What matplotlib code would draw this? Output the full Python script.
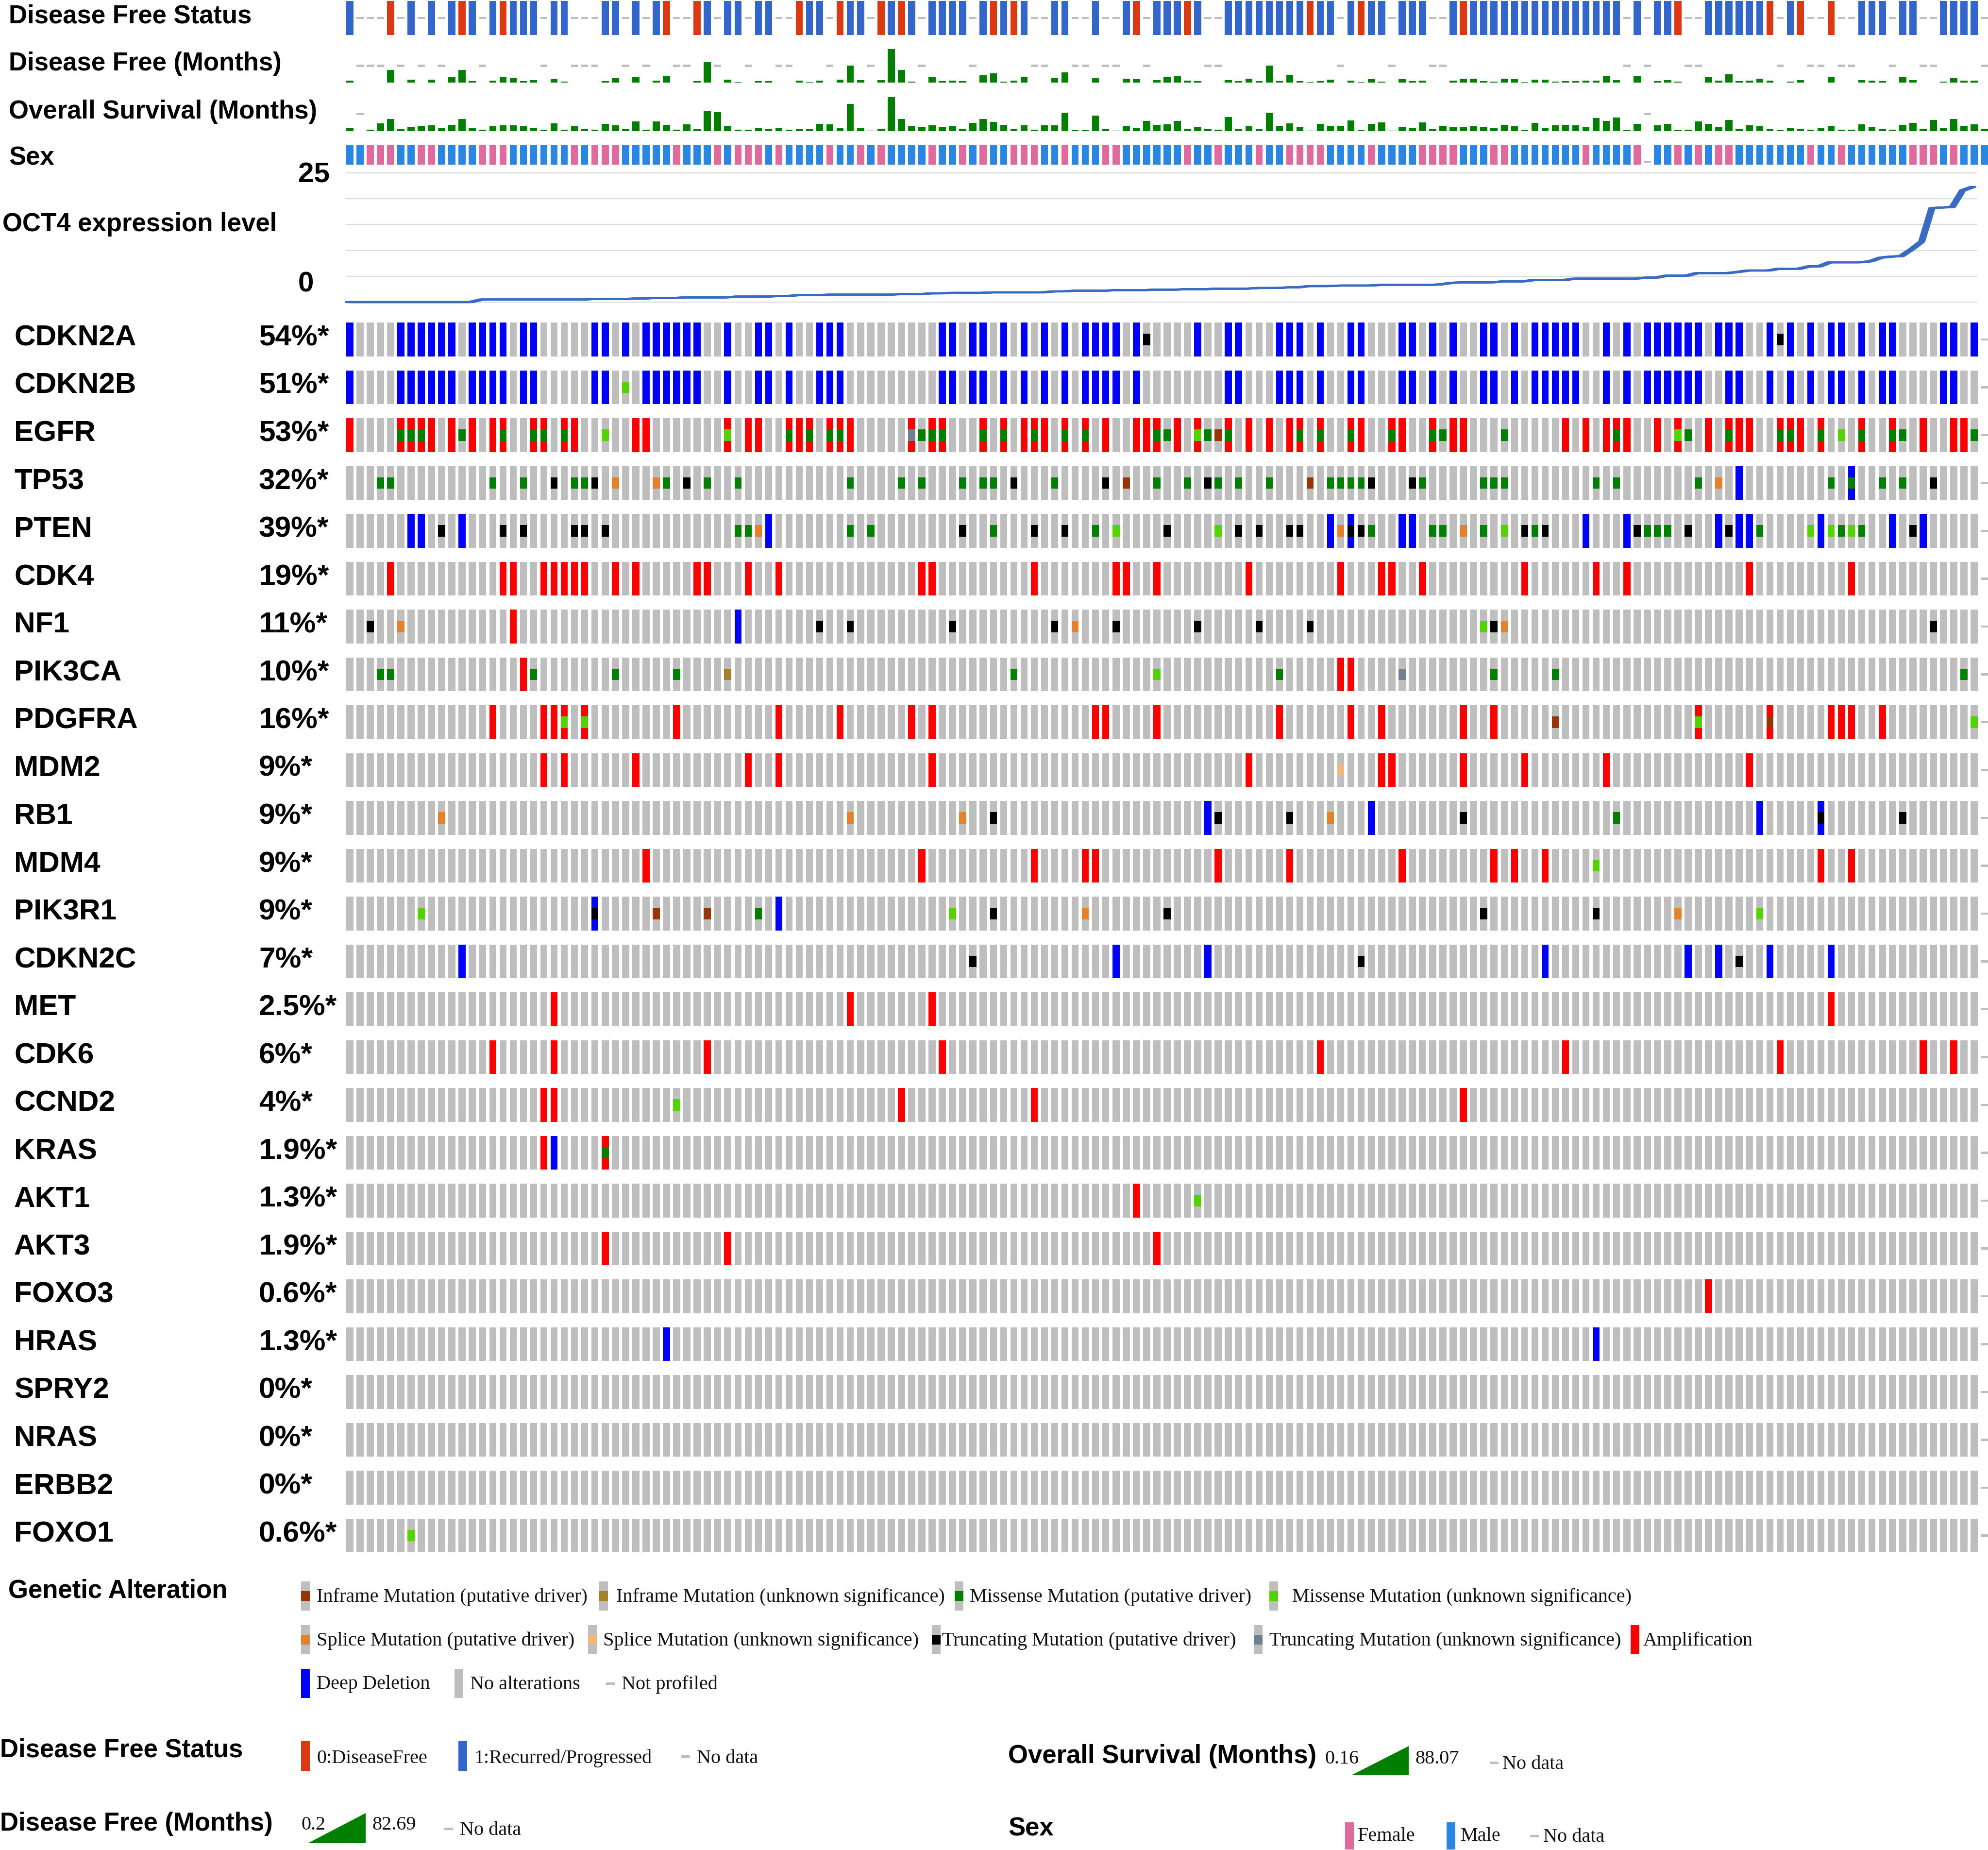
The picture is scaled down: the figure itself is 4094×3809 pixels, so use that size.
import matplotlib
matplotlib.use("Agg")
import matplotlib.pyplot as plt
from matplotlib.patches import Rectangle, Polygon

plt.rcParams['font.family'] = ['Liberation Sans', 'DejaVu Sans']

W, H = 4094, 3809
nan = float('nan')

# ---------------- data ----------------
genes = ['CDKN2A', 'CDKN2B', 'EGFR', 'TP53', 'PTEN', 'CDK4', 'NF1', 'PIK3CA', 'PDGFRA',
         'MDM2', 'RB1', 'MDM4', 'PIK3R1', 'CDKN2C', 'MET', 'CDK6', 'CCND2', 'KRAS',
         'AKT1', 'AKT3', 'FOXO3', 'HRAS', 'SPRY2', 'NRAS', 'ERBB2', 'FOXO1']
gene_pct = ['54%*', '51%*', '53%*', '32%*', '39%*', '19%*', '11%*', '10%*', '16%*',
            '9%*', '9%*', '9%*', '9%*', '7%*', '2.5%*', '6%*', '4%*', '1.9%*',
            '1.3%*', '1.9%*', '0.6%*', '1.3%*', '0%*', '0%*', '0%*', '0.6%*']
n_samples = 161
not_profiled = [160]

# alteration codes: A amp, D deep del, M missense driver, m missense VUS, T truncating driver,
# t truncating VUS, S splice driver, s splice VUS, I inframe driver, i inframe VUS
CDKN2A_alt = {'D': [0, 5, 6, 7, 8, 9, 10, 12, 13, 14, 15, 17, 18, 24, 25, 27, 29, 30, 31, 32, 33, 34, 37,
                    40, 41, 43, 46, 47, 48, 58, 59, 61, 62, 64, 66, 68, 70, 72, 73, 74, 75, 77, 83, 86, 87,
                    91, 92, 93, 95, 98, 99, 103, 104, 106, 108, 111, 112, 114, 116, 117, 118, 119, 120,
                    123, 125, 127, 128, 129, 130, 131, 132, 134, 135, 136, 139, 141, 143, 145, 146, 148,
                    150, 151, 156, 157, 159],
              'T': [78, 140]}
CDKN2B_alt = {'D': [0, 5, 6, 7, 8, 9, 10, 12, 13, 14, 15, 17, 18, 24, 25, 29, 30, 31, 32, 33, 34, 37,
                    40, 41, 43, 46, 47, 48, 58, 59, 61, 62, 64, 66, 68, 70, 72, 73, 74, 75, 77, 86, 87,
                    91, 92, 93, 95, 98, 99, 103, 104, 106, 108, 111, 112, 114, 116, 117, 118, 119, 120,
                    123, 125, 127, 128, 129, 130, 131, 132, 135, 136, 139, 141, 143, 145, 146, 148,
                    150, 151, 156, 157],
              'm': [27]}
EGFR_alt = {'A': [0, 5, 6, 7, 8, 10, 12, 14, 15, 18, 19, 21, 22, 28, 29, 37, 39, 40, 43, 44, 45, 47, 48, 49,
                  55, 57, 58, 62, 64, 66, 67, 68, 70, 72, 74, 77, 78, 79, 81, 83, 86, 88, 90, 92, 93, 95,
                  98, 99, 102, 103, 106, 108, 109, 119, 121, 123, 124, 125, 128, 130, 133, 135, 136, 137,
                  140, 141, 142, 144, 148, 151, 154, 157, 158],
            'M': [5, 6, 7, 11, 15, 18, 19, 21, 43, 45, 47, 48, 56, 57, 58, 62, 64, 67, 70, 72, 79, 80, 84,
                  86, 93, 95, 98, 102, 106, 107, 113, 124, 131, 135, 140, 141, 144, 148, 151, 152, 159],
            'm': [25, 37, 83, 130, 146],
            't': [55],
            'I': [85]}
TP53_alt = {'M': [3, 4, 14, 17, 22, 23, 31, 35, 38, 49, 54, 56, 60, 62, 63, 69, 79, 82, 85, 87, 90, 96, 97,
                  98, 99, 105, 111, 112, 113, 122, 124, 132, 145, 147, 150, 152],
            'T': [20, 24, 33, 65, 74, 84, 100, 104, 155],
            'S': [26, 30, 134],
            'I': [76, 94],
            'D': [136, 147]}
PTEN_alt = {'D': [6, 7, 11, 41, 96, 98, 103, 104, 121, 125, 134, 136, 137, 144, 151, 154],
            'T': [9, 15, 17, 22, 23, 25, 60, 67, 70, 80, 87, 89, 92, 93, 98, 99, 115, 117, 126, 131, 135, 153],
            'M': [38, 39, 49, 51, 63, 73, 100, 106, 107, 111, 116, 127, 128, 129, 138, 146, 148],
            'm': [75, 85, 113, 143, 145, 147],
            'S': [40, 97, 109]}
CDK4_alt = {'A': [4, 15, 16, 19, 20, 21, 22, 23, 26, 28, 34, 35, 39, 42, 56, 57, 67, 75, 76, 79, 88, 97,
                  101, 102, 105, 115, 122, 125, 137, 147]}
NF1_alt = {'T': [2, 46, 49, 59, 69, 75, 83, 89, 94, 112, 155], 'S': [5, 71, 113], 'A': [16], 'D': [38],
           'm': [111]}
PIK3CA_alt = {'M': [3, 4, 18, 26, 32, 65, 91, 112, 118, 158], 'A': [17, 97, 98], 'i': [37], 'm': [79],
              't': [103]}
PDGFRA_alt = {'A': [14, 19, 20, 21, 23, 32, 42, 48, 55, 57, 73, 74, 79, 91, 98, 101, 109, 112, 132, 139,
                    145, 146, 147, 150],
              'm': [21, 23, 132, 159], 'I': [118, 139]}
MDM2_alt = {'A': [19, 21, 28, 39, 42, 57, 88, 101, 102, 109, 115, 123, 137], 's': [97]}
RB1_alt = {'S': [9, 49, 60, 96], 'T': [63, 85, 92, 109, 144, 152], 'D': [84, 100, 138, 144], 'M': [124]}
MDM4_alt = {'A': [29, 56, 67, 72, 73, 85, 92, 103, 112, 114, 117, 144, 147], 'm': [122]}
PIK3R1_alt = {'m': [7, 59, 138], 'D': [24, 42], 'T': [24, 63, 80, 111, 122], 'I': [30, 35], 'M': [40],
              'S': [72, 130]}
CDKN2C_alt = {'D': [11, 75, 84, 117, 131, 134, 139, 145], 'T': [61, 99, 136]}
MET_alt = {'A': [20, 49, 57, 145]}
CDK6_alt = {'A': [14, 20, 35, 58, 95, 119, 140, 154, 157]}
CCND2_alt = {'A': [19, 20, 54, 67, 109], 'm': [32]}
KRAS_alt = {'A': [19, 25], 'D': [20], 'M': [25]}
AKT1_alt = {'A': [77], 'm': [83]}
AKT3_alt = {'A': [25, 37, 79]}
FOXO3_alt = {'A': [133]}
HRAS_alt = {'D': [31, 122]}
SPRY2_alt = {}
NRAS_alt = {}
ERBB2_alt = {}
FOXO1_alt = {'m': [6]}

gene_alts = [CDKN2A_alt, CDKN2B_alt, EGFR_alt, TP53_alt, PTEN_alt, CDK4_alt, NF1_alt, PIK3CA_alt,
             PDGFRA_alt, MDM2_alt, RB1_alt, MDM4_alt, PIK3R1_alt, CDKN2C_alt, MET_alt, CDK6_alt,
             CCND2_alt, KRAS_alt, AKT1_alt, AKT3_alt, FOXO3_alt, HRAS_alt, SPRY2_alt, NRAS_alt,
             ERBB2_alt, FOXO1_alt]

# clinical tracks ('1' Recurred/Progressed, '0' DiseaseFree, '-' no data)
dfs_status = list("1---0-1-1-" "101-10111-" "11---11-1-" "10--01-11-" "11--011-01"
                  "1-0101-111" "1-10101--1" "1--1--10-1" "1101--1111" "1111011-10"
                  "11-111--10" "1111111111" "11111-1-11" "0--1111110" "-10--0--11"
                  "1-11--1111" "-")
df_months = [5.2, nan, nan, nan, 31, nan, 7.6, nan, 7.6, nan,
             13, 31, 3.6, nan, 5.2, 14.5, 12, 3.2, 6.4, nan,
             8.8, 2, nan, nan, nan, 3.2, 10.8, nan, 13.2, nan,
             5.2, 15.7, nan, nan, 4, 50.6, nan, 7.6, 1.2, nan,
             3.2, 3.2, nan, nan, 5.2, 1.2, 5.2, nan, 7.6, 41.8,
             6.4, nan, 6.4, 82.69, 31.3, 2, nan, 13.2, 3.2, 5.2,
             3.2, nan, 17.7, 22.5, 2, 5.2, 13.2, nan, nan, 12,
             25.7, nan, nan, 10.8, nan, nan, 9.6, 8.8, nan, 6.4,
             13.2, 15.7, 5.2, 3.2, nan, nan, 6.4, 3.2, 9.6, 3.2,
             41.7, 4, 18.9, 4, 1.2, 4, 7.6, nan, 5.2, 1.2,
             8.8, 2, nan, 8.8, 3.2, 5.2, nan, nan, 5.1, 9.5,
             9.5, 3.2, 2, 9.5, 8.7, 1.2, 7.5, 7.5, 2, 3.9,
             3.9, 5.1, 5.1, 17.3, 6.3, nan, 15.4, nan, 3.9, 6.3,
             2, nan, nan, 14.2, 5.1, 20.9, 3.2, 5.1, 9.5, 5.1,
             nan, 2, 6.3, nan, nan, 13, nan, nan, 6.3, 5.1,
             3.9, nan, 13, 6.3, nan, nan, 2, 10.6, 5.1, 5.1,
             nan]
os_months = [9.3, nan, 4.2, 19.9, 31.8, 5.5, 11.9, 14, 15.2, 8,
             16.5, 31.8, 8, 4.2, 12.7, 15.2, 15.2, 12.7, 9.3, 4.2,
             19.9, 4.2, 12.7, 5.5, 4.2, 18.6, 15.2, 5.5, 25, 3.4,
             25, 16.5, 3.4, 17.8, 5.5, 51.2, 48.7, 14, 3.4, 3.4,
             8, 5.5, 9.3, 3.4, 5.5, 5.5, 18.6, 17.8, 8, 70.3,
             8, 1.7, 6.8, 88.07, 31.8, 12.7, 11.9, 15.2, 11.9, 12.7,
             6.8, 21.2, 30.9, 23.7, 16.5, 5.5, 15.2, 4.2, 15.2, 15.2,
             47.8, 2.1, 2.1, 40.6, 5.5, 1.3, 14, 9.3, 25.8, 16.5,
             17.8, 25.8, 5.5, 11.9, 5.5, 4.2, 36, 5.5, 12.7, 5.5,
             47.8, 14, 19.9, 10.6, 1.3, 18.6, 14, 14, 27.1, 2.1,
             18.6, 22.4, 1.3, 11.9, 8, 22.4, 5.5, 14, 10.4, 10.4,
             12.5, 11.6, 7.9, 16.2, 12.5, 2.1, 20.8, 9.1, 15, 16.2,
             15, 10.4, 33.7, 26.6, 35.3, 2.1, 19.5, nan, 15, 19.5,
             2.1, 3.3, 25.4, 18.3, 11.6, 29.1, 6.6, 15, 12.5, 5.4,
             2.1, 7.9, 6.6, 3.3, 9.1, 13.7, 3.3, 4.2, 17.5, 10.4,
             5.4, 3.3, 16.2, 22, 6.6, 29.1, 7.9, 31.2, 13.7, 17.5,
             6.6]
sex = list("MMFFFMMFFM" "MMMFFFMMMM" "MMFMFFFMMM" "MMFMMMFMFF" "FMFMMMMFMM"
           "FMFMMMMFMM" "FMFMMFFFMM" "FMMMFFMMMM" "MMFMMFMMMF" "MMFFFFMMMM"
           "FMMMMFFFFM" "MMFFMMMMMM" "MFMMMMF-MM" "FMFMFFMMMM" "MMMFMMFMMM"
           "MMMFFFMFMM" "M")
oct4 = [0.0, 0.0, 0.0, 0.0, 0.0, 0.0, 0.0, 0.0, 0.0, 0.0, 0.0, 0.0, 0.0,
        0.50, 0.50, 0.50, 0.50, 0.50, 0.50, 0.50, 0.50, 0.50, 0.50, 0.50,
        0.60, 0.60, 0.60, 0.60, 0.69, 0.69, 0.81, 0.81, 0.81,
        0.91, 0.91, 0.91, 0.91, 0.91, 1.07, 1.07, 1.07, 1.07, 1.16, 1.16,
        1.35, 1.35, 1.35, 1.44, 1.44, 1.44, 1.44, 1.44, 1.44, 1.44,
        1.54, 1.54, 1.54, 1.69, 1.69, 1.79, 1.79, 1.79, 1.79,
        1.88, 1.88, 1.88, 1.88, 1.88, 1.88, 2.07, 2.07,
        2.19, 2.19, 2.19, 2.19, 2.32, 2.32, 2.32, 2.32, 2.41, 2.41, 2.41,
        2.51, 2.51, 2.51, 2.60, 2.60, 2.60, 2.60, 2.73, 2.73, 2.73, 2.85, 2.85,
        3.10, 3.10, 3.10, 3.20, 3.20, 3.20, 3.20, 3.32, 3.32, 3.32, 3.32, 3.32, 3.32,
        3.45, 3.73, 3.82, 3.82, 3.82, 3.82, 4.01, 4.01, 4.01,
        4.26, 4.26, 4.26, 4.26, 4.54, 4.54, 4.54, 4.54, 4.54, 4.54, 4.54,
        4.73, 4.73, 5.11, 5.11, 5.11, 5.61, 5.61, 5.61, 5.61, 5.83,
        6.11, 6.11, 6.11, 6.45, 6.45, 6.45, 6.92, 6.92,
        7.70, 7.70, 7.70, 7.70, 7.90, 8.60, 8.80, 8.90, 10.20, 11.70,
        18.20, 18.30, 18.40, 21.60, 22.30]
oct4_range = (0, 25)

# ---------------- styles ----------------
GRAY = '#bebebe'
CNA_COL = {'A': '#ff0000', 'D': '#0000ff'}
MUT_COL = {'M': '#008000', 'm': '#53d400', 'T': '#000000', 't': '#708090',
           'S': '#e5802b', 's': '#f0b87b', 'I': '#993404', 'i': '#a68028'}
DFS_COL = {'1': '#3366cc', '0': '#dc3912'}
SEX_COL = {'M': '#2986e2', 'F': '#e0699e'}
GREEN = '#007f00'
LINE_COL = '#3a6bc4'

X0 = 713.0       # pixel of first column
PITCH = 21.04    # pixel pitch of columns
BW = 0.69        # bar width (fraction of pitch)
XMAX = (W - X0) / PITCH
ROW0 = 699.0
ROWP = 98.5
BAR_H = 0.71
MUT_H = BAR_H / 3

fig = plt.figure(figsize=(W / 100, H / 100), dpi=100)


def px_axes(x0, y0, x1, y1):
    ax = fig.add_axes([x0 / W, 1 - y1 / H, (x1 - x0) / W, (y1 - y0) / H])
    ax.set_axis_off()
    return ax


def ftext(x, y, s, **kw):
    fig.text(x / W, 1 - y / H, s, **kw)


cols = list(range(n_samples))
profiled = [c for c in cols if c not in not_profiled]

# ---------------- oncoprint ----------------
ng = len(genes)
ax = px_axes(X0, ROW0 - ROWP / 2, W, ROW0 + ROWP * (ng - 0.5))
ax.set_xlim(0, XMAX)
ax.set_ylim(ng - 0.5, -0.5)
for i, (g, alt) in enumerate(zip(genes, gene_alts)):
    ax.bar(profiled, BAR_H, width=BW, bottom=i - BAR_H / 2, align='edge', color=GRAY, linewidth=0)
    ax.bar(not_profiled, 0.045, width=BW, bottom=i - 0.0225, align='edge', color=GRAY, linewidth=0)
    for code, colr in CNA_COL.items():
        if code in alt:
            ax.bar(alt[code], BAR_H, width=BW, bottom=i - BAR_H / 2, align='edge', color=colr, linewidth=0)
    for code, colr in MUT_COL.items():
        if code in alt:
            ax.bar(alt[code], MUT_H, width=BW, bottom=i - MUT_H / 2, align='edge', color=colr, linewidth=0)
    ftext(29, ROW0 + i * ROWP - 3, g, fontsize=43.5, fontweight='bold', va='center', ha='left')
    ftext(533, ROW0 + i * ROWP - 3, gene_pct[i], fontsize=43.5, fontweight='bold', va='center', ha='left')

# ---------------- clinical tracks ----------------
# Disease free status
ax = px_axes(X0, 2, W, 72)
ax.set_xlim(0, XMAX)
ax.set_ylim(0, 1)
for code, colr in DFS_COL.items():
    idx = [c for c in cols if dfs_status[c] == code]
    ax.bar(idx, 1, width=BW, align='edge', color=colr, linewidth=0)
idx = [c for c in cols if dfs_status[c] == '-']
ax.bar(idx, 0.07, width=BW, bottom=0.465, align='edge', color=GRAY, linewidth=0)


def months_track(y0, y1, vals, vmax):
    a = px_axes(X0, y0, W, y1)
    a.set_xlim(0, XMAX)
    a.set_ylim(0, vmax)
    have = [c for c in cols if vals[c] == vals[c]]
    a.bar(have, [vals[c] for c in have], width=BW, align='edge', color=GREEN, linewidth=0)
    miss = [c for c in cols if vals[c] != vals[c]]
    a.bar(miss, vmax * 0.06, width=BW, bottom=vmax * 0.47, align='edge', color=GRAY, linewidth=0)


months_track(101, 170, df_months, 82.69)
months_track(200, 270, os_months, 88.07)

# Sex
ax = px_axes(X0, 299, W, 339)
ax.set_xlim(0, XMAX)
ax.set_ylim(0, 1)
for code, colr in SEX_COL.items():
    idx = [c for c in cols if sex[c] == code]
    ax.bar(idx, 1, width=BW, align='edge', color=colr, linewidth=0)
idx = [c for c in cols if sex[c] == '-']
ax.bar(idx, 0.1, width=BW, bottom=0.1, align='edge', color=GRAY, linewidth=0)

# OCT4 expression line (drawn with a horizontally wide pen, like the original)
ax = px_axes(X0, 356, W, 622)
ax.set_xlim(0, XMAX)
ax.set_ylim(*oct4_range)
for v in range(0, 26, 5):
    ax.plot([0, 159.6], [v, v], color='#dcdcdc', lw=1.6, clip_on=False, zorder=1)
for dx in (-0.25, -0.12, 0.0, 0.12, 0.25):
    ax.plot([c + 0.2 + dx for c in range(len(oct4))], oct4, color=LINE_COL, lw=3.0,
            solid_joinstyle='round', solid_capstyle='round', clip_on=False, zorder=3)

# ---------------- track labels ----------------
LBL = dict(fontsize=38, fontweight='bold', va='center', ha='left')
ftext(18, 33, 'Disease Free Status', **LBL)
ftext(18, 131, 'Disease Free (Months)', **LBL)
ftext(18, 230, 'Overall Survival (Months)', **LBL)
ftext(18, 326, 'Sex', **LBL)
ftext(5, 462, 'OCT4 expression level', **LBL)
ftext(614, 361, str(oct4_range[1]), fontsize=42, fontweight='bold', va='center', ha='left')
ftext(614, 585, str(oct4_range[0]), fontsize=42, fontweight='bold', va='center', ha='left')

# ---------------- legends ----------------
lg = fig.add_axes([0, 0, 1, 1])
lg.set_xlim(0, W)
lg.set_ylim(H, 0)
lg.set_axis_off()
LT = dict(fontsize=29, family=['Liberation Serif', 'DejaVu Serif'], va='center', ha='left', color='#111111')


def swatch(x, yc, kind, colr, h=60, w=18):
    if kind == 'mut':
        lg.add_patch(Rectangle((x, yc - h / 2), w, h, color=GRAY, lw=0))
        lg.add_patch(Rectangle((x, yc - h / 6), w, h / 3, color=colr, lw=0))
    elif kind == 'full':
        lg.add_patch(Rectangle((x, yc - h / 2), w, h, color=colr, lw=0))
    else:
        lg.add_patch(Rectangle((x, yc - 2.5), w, 5, color=colr, lw=0))


ftext(17, 3275, 'Genetic Alteration', **LBL)
legend_items = [
    (3286, 'Inframe Mutation (putative driver)', 'mut', MUT_COL['I'], 620, 652),
    (3286, 'Inframe Mutation (unknown significance)', 'mut', MUT_COL['i'], 1234, 1269),
    (3286, 'Missense Mutation (putative driver)', 'mut', MUT_COL['M'], 1966, 1997),
    (3286, 'Missense Mutation (unknown significance)', 'mut', MUT_COL['m'], 2614, 2661),
    (3376, 'Splice Mutation (putative driver)', 'mut', MUT_COL['S'], 620, 652),
    (3376, 'Splice Mutation (unknown significance)', 'mut', MUT_COL['s'], 1211, 1242),
    (3376, 'Truncating Mutation (putative driver)', 'mut', MUT_COL['T'], 1919, 1940),
    (3376, 'Truncating Mutation (unknown significance)', 'mut', MUT_COL['t'], 2582, 2614),
    (3376, 'Amplification', 'full', CNA_COL['A'], 3358, 3384),
    (3466, 'Deep Deletion', 'full', CNA_COL['D'], 620, 652),
    (3466, 'No alterations', 'full', GRAY, 936, 968),
    (3466, 'Not profiled', 'dash', GRAY, 1248, 1280),
]
for yc, label, kind, colr, sx, tx in legend_items:
    swatch(sx, yc, kind, colr)
    ftext(tx, yc + 2, label, **LT)

# Disease Free Status legend
ftext(0, 3603, 'Disease Free Status', **LBL)
swatch(620, 3615, 'full', DFS_COL['0'], h=62)
ftext(652, 3620, '0:DiseaseFree', **LT)
swatch(944, 3615, 'full', DFS_COL['1'], h=62)
ftext(976, 3620, '1:Recurred/Progressed', **LT)
swatch(1403, 3616, 'dash', GRAY)
ftext(1435, 3620, 'No data', **LT)

# Disease Free (Months) legend
ftext(0, 3755, 'Disease Free (Months)', **LBL)
ftext(620, 3757, '0.2', **LT)
lg.add_patch(Polygon([(634, 3795), (753, 3795), (753, 3733)], closed=True, color=GREEN, lw=0))
ftext(767, 3757, '82.69', **LT)
swatch(915, 3765, 'dash', GRAY)
ftext(947, 3768, 'No data', **LT)

# Overall Survival legend
ftext(2076, 3616, 'Overall Survival (Months)', **LBL)
ftext(2728, 3621, '0.16', **LT)
lg.add_patch(Polygon([(2783, 3655), (2901, 3655), (2901, 3595)], closed=True, color=GREEN, lw=0))
ftext(2914, 3621, '88.07', **LT)
swatch(3068, 3629, 'dash', GRAY)
ftext(3094, 3632, 'No data', **LT)

# Sex legend
ftext(2076, 3765, 'Sex', **LBL)
swatch(2770, 3780, 'full', SEX_COL['F'], h=56)
ftext(2796, 3780, 'Female', **LT)
swatch(2979, 3780, 'full', SEX_COL['M'], h=56)
ftext(3008, 3780, 'Male', **LT)
swatch(3151, 3780, 'dash', GRAY)
ftext(3178, 3782, 'No data', **LT)

fig.savefig('out.png', dpi=100)
